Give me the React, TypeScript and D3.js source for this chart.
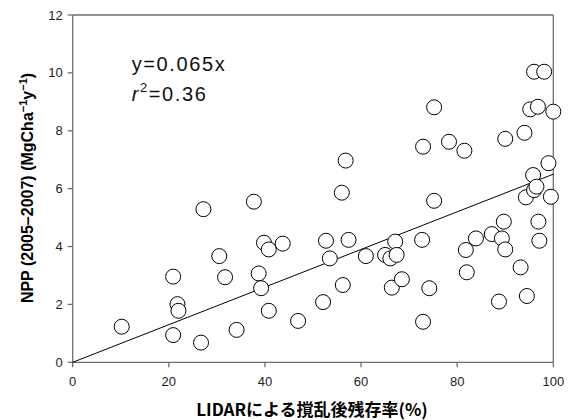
import { useEffect } from "react";
import * as d3 from "d3";

// LIDAR post-disturbance survival rate (%) vs NPP (2005-2007)
const lidarRate = [
  10.2, 20.9, 20.9, 21.8, 22.0, 27.2, 26.7, 30.5, 31.7, 34.1, 37.7, 38.7, 39.2,
  39.8, 40.8, 40.8, 43.7, 46.9, 52.1, 52.7, 53.5, 56.0, 56.2, 56.8, 57.4, 61.0,
  65.0, 66.1, 66.4, 67.1, 67.4, 68.5, 72.9, 72.7, 72.9, 74.2, 75.2, 75.2, 78.3,
  81.5, 81.8, 82.0, 83.9, 87.2, 88.7, 89.3, 90.0, 89.7, 90.0, 93.2, 94.0, 94.5,
  94.3, 95.2, 96.0, 95.8, 96.0, 96.5, 96.8, 96.9, 97.1, 98.1, 99.0, 99.5, 100,
];
const nppValues = [
  1.23, 2.96, 0.94, 2.01, 1.78, 5.29, 0.68, 3.67, 2.94, 1.12, 5.55, 3.07, 2.56,
  4.13, 3.9, 1.78, 4.1, 1.43, 2.08, 4.2, 3.59, 5.86, 2.67, 6.97, 4.23, 3.67,
  3.71, 3.59, 2.58, 4.17, 3.71, 2.87, 7.45, 4.23, 1.4, 2.56, 8.81, 5.58, 7.62,
  7.31, 3.88, 3.11, 4.28, 4.43, 2.1, 4.28, 3.9, 4.86, 7.72, 3.28, 7.93, 2.29,
  5.7, 8.74, 10.04, 6.47, 5.95, 6.07, 8.83, 4.86, 4.2, 10.04, 6.88, 5.72, 8.66,
];
const xTicks = [0, 20, 40, 60, 80, 100];
const yTicks = [0, 2, 4, 6, 8, 10, 12];
const slope = 0.065;
const fitRange = [0, 100];

const WIDTH = 573;
const HEIGHT = 420;
const MARGIN = { top: 15, right: 19.7, bottom: 57.7, left: 72.7 };

export default function App() {
  useEffect(() => {
    document.body.style.margin = "0";
  }, []);

  const boundsWidth = WIDTH - MARGIN.left - MARGIN.right;
  const boundsHeight = HEIGHT - MARGIN.top - MARGIN.bottom;

  const xScale = d3.scaleLinear().domain([0, 100]).range([0, boundsWidth]);
  const yScale = d3.scaleLinear().domain([0, 12]).range([boundsHeight, 0]);

  const fitLine = d3
    .line<number>()
    .x((d) => xScale(d))
    .y((d) => yScale(d * slope))(fitRange);

  const axisColor = "#6e6e6e";
  const tickFont = "Arial, 'Liberation Sans', sans-serif";

  return (
    <svg width={WIDTH} height={HEIGHT} style={{ display: "block", background: "#fff" }}>
      <g transform={`translate(${MARGIN.left},${MARGIN.top})`}>
        {/* frame */}
        <line x1={0} x2={boundsWidth} y1={0} y2={0} stroke={axisColor} strokeWidth={1.3} />
        <line x1={boundsWidth} x2={boundsWidth} y1={0} y2={boundsHeight} stroke={axisColor} strokeWidth={1.3} />
        <line x1={0} x2={0} y1={0} y2={boundsHeight} stroke={axisColor} strokeWidth={1.3} />
        <line x1={0} x2={boundsWidth} y1={boundsHeight} y2={boundsHeight} stroke={axisColor} strokeWidth={1.3} />

        {/* y ticks */}
        {yTicks.map((t) => (
          <g key={"y" + t} transform={`translate(0,${yScale(t)})`}>
            <line x1={-5} x2={0} stroke={axisColor} strokeWidth={1.3} />
            <text
              x={-10}
              dy="0.35em"
              textAnchor="end"
              fontFamily={tickFont}
              fontSize={13}
              fill="#222"
            >
              {t}
            </text>
          </g>
        ))}

        {/* x ticks */}
        {xTicks.map((t) => (
          <g key={"x" + t} transform={`translate(${xScale(t)},${boundsHeight})`}>
            <line y1={0} y2={5} stroke={axisColor} strokeWidth={1.3} />
            <text
              y={24}
              textAnchor="middle"
              fontFamily={tickFont}
              fontSize={13}
              fill="#222"
            >
              {t}
            </text>
          </g>
        ))}

        {/* regression line */}
        <path d={fitLine ?? ""} fill="none" stroke="#000" strokeWidth={1} />

        {/* points */}
        {lidarRate.map((x, i) => (
          <circle
            key={i}
            cx={xScale(x)}
            cy={yScale(nppValues[i])}
            r={7.5}
            fill="#fff"
            stroke="#000"
            strokeWidth={1}
          />
        ))}

        {/* equation */}
        <text x={59} y={56} fontFamily={tickFont} fontSize={20} letterSpacing={1.6} fill="#111">
          y=0.065x
        </text>
        <text x={59} y={86} fontFamily={tickFont} fontSize={20} letterSpacing={1.6} fill="#111">
          <tspan fontStyle="italic">r</tspan>
          <tspan dy={-9} fontSize={13}>2</tspan>
          <tspan dy={9}>=0.36</tspan>
        </text>
      </g>

      {/* y label */}
      <text
        transform={`translate(33,188) rotate(-90)`}
        textAnchor="middle"
        fontFamily={tickFont}
        fontWeight="bold"
        fontSize={16}
        fill="#000"
      >
        NPP (2005–2007) (MgCha
        <tspan dy={-6} fontSize={11}>−1</tspan>
        <tspan dy={6}>y</tspan>
        <tspan dy={-6} fontSize={11}>−1</tspan>
        <tspan dy={6}>)</tspan>
      </text>

      {/* x label */}
      <text
        x={312}
        y={416}
        textAnchor="middle"
        fontFamily="'Noto Sans CJK JP', sans-serif"
        fontWeight="bold"
        fontSize={17}
        fill="#000"
      >
        LIDARによる撹乱後残存率(%)
      </text>
    </svg>
  );
}
